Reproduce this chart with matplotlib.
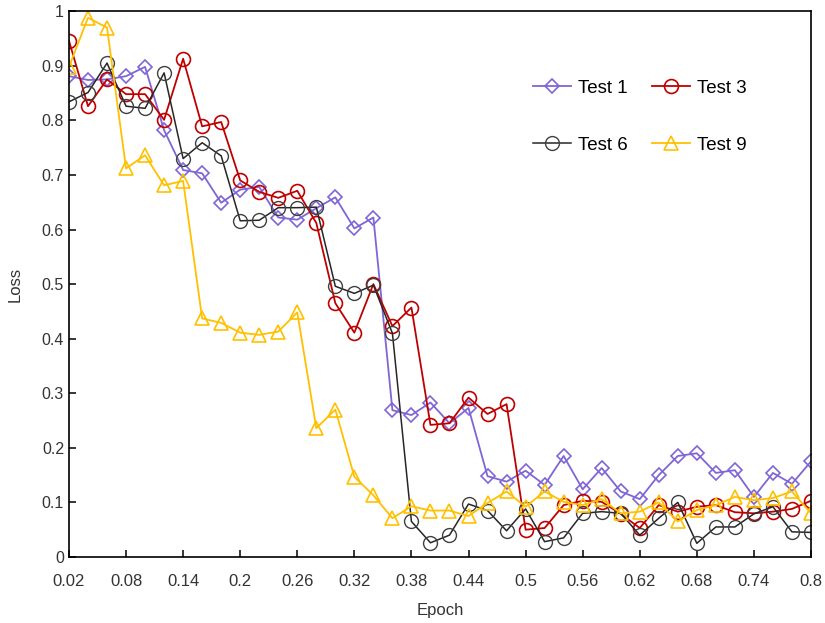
import numpy as np
import matplotlib
matplotlib.use("Agg")
import matplotlib.pyplot as plt

# epochs 0.02 .. 0.80 in steps of 0.02
epoch = np.round(np.arange(1, 41) * 0.02, 2)

test1 = [0.881, 0.874, 0.875, 0.881, 0.898, 0.782, 0.709, 0.703, 0.649, 0.673,
         0.678, 0.622, 0.618, 0.639, 0.659, 0.602, 0.622, 0.269, 0.260, 0.283,
         0.245, 0.273, 0.148, 0.138, 0.158, 0.132, 0.185, 0.124, 0.163, 0.120,
         0.106, 0.150, 0.185, 0.190, 0.154, 0.159, 0.110, 0.154, 0.134, 0.175]
test3 = [0.946, 0.826, 0.875, 0.848, 0.848, 0.801, 0.913, 0.789, 0.797, 0.690,
         0.669, 0.658, 0.671, 0.612, 0.465, 0.411, 0.500, 0.423, 0.457, 0.242,
         0.245, 0.292, 0.262, 0.280, 0.050, 0.053, 0.095, 0.103, 0.101, 0.079,
         0.053, 0.095, 0.083, 0.092, 0.095, 0.082, 0.080, 0.083, 0.088, 0.103]
test6 = [0.834, 0.851, 0.905, 0.826, 0.822, 0.887, 0.730, 0.759, 0.735, 0.616,
         0.617, 0.640, 0.640, 0.641, 0.496, 0.483, 0.498, 0.410, 0.065, 0.026,
         0.040, 0.097, 0.085, 0.048, 0.088, 0.028, 0.035, 0.080, 0.083, 0.080,
         0.040, 0.071, 0.100, 0.025, 0.055, 0.055, 0.079, 0.092, 0.046, 0.045]
test9 = [0.898, 0.988, 0.970, 0.712, 0.736, 0.681, 0.689, 0.437, 0.429, 0.411,
         0.407, 0.413, 0.448, 0.236, 0.270, 0.147, 0.113, 0.071, 0.093, 0.085,
         0.085, 0.075, 0.099, 0.120, 0.092, 0.120, 0.101, 0.095, 0.106, 0.080,
         0.083, 0.100, 0.065, 0.086, 0.095, 0.110, 0.104, 0.108, 0.120, 0.080]

xticks = [0.02, 0.08, 0.14, 0.2, 0.26, 0.32, 0.38, 0.44, 0.5, 0.56, 0.62, 0.68, 0.74, 0.8]
xtick_labels = ["0.02", "0.08", "0.14", "0.2", "0.26", "0.32", "0.38", "0.44",
                "0.5", "0.56", "0.62", "0.68", "0.74", "0.8"]
yticks = np.round(np.arange(0, 11) * 0.1, 1)
ytick_labels = ["0", "0.1", "0.2", "0.3", "0.4", "0.5", "0.6", "0.7", "0.8", "0.9", "1"]

fig = plt.figure(figsize=(8.25, 6.23), dpi=100)
ax = fig.add_axes([0.0836, 0.106, 0.8994, 0.876])

l1, = ax.plot(epoch, test1, color="#7F65D6", lw=1.3, marker="D", ms=7,
              mfc="none", mew=1.2, label="Test 1")
l3, = ax.plot(epoch, test3, color="#C00000", lw=1.3, marker="o", ms=10,
              mfc="none", mew=1.2, label="Test 3")
l6, = ax.plot(epoch, test6, color="#262626", lw=1.1, marker="o", ms=10,
              mfc="none", mew=1.0, mec="#404040", label="Test 6")
l9, = ax.plot(epoch, test9, color="#FFC000", lw=1.3, marker="^", ms=10,
              mfc="none", mew=1.2, label="Test 9")

ax.set_xlim(0.02, 0.8)
ax.set_ylim(0, 1)
ax.set_xticks(xticks)
ax.set_xticklabels(xtick_labels, family="Liberation Sans", fontsize=12)
ax.set_yticks(yticks)
ax.set_yticklabels(ytick_labels, family="Liberation Sans", fontsize=11.5)
ax.tick_params(direction="in", length=5, width=1.1, colors="black", labelcolor="#333333")
ax.tick_params(axis="x", pad=12)
for s in ax.spines.values():
    s.set_linewidth(1.2)

ax.set_xlabel("Epoch", fontsize=12, family="Liberation Sans",
              color="#333333", labelpad=10)
ax.set_ylabel("Loss", fontsize=12, family="Liberation Sans",
              color="#333333", labelpad=14)

ax.legend(handles=[l1, l6, l3, l9], ncol=2, frameon=False,
          loc="upper left", bbox_to_anchor=(0.603, 0.905), labelspacing=2.1,
          columnspacing=1.3, handlelength=2.0, handletextpad=0.4,
          prop={"family": "Liberation Sans", "size": 13.5})

fig.savefig("out.png", dpi=100)
